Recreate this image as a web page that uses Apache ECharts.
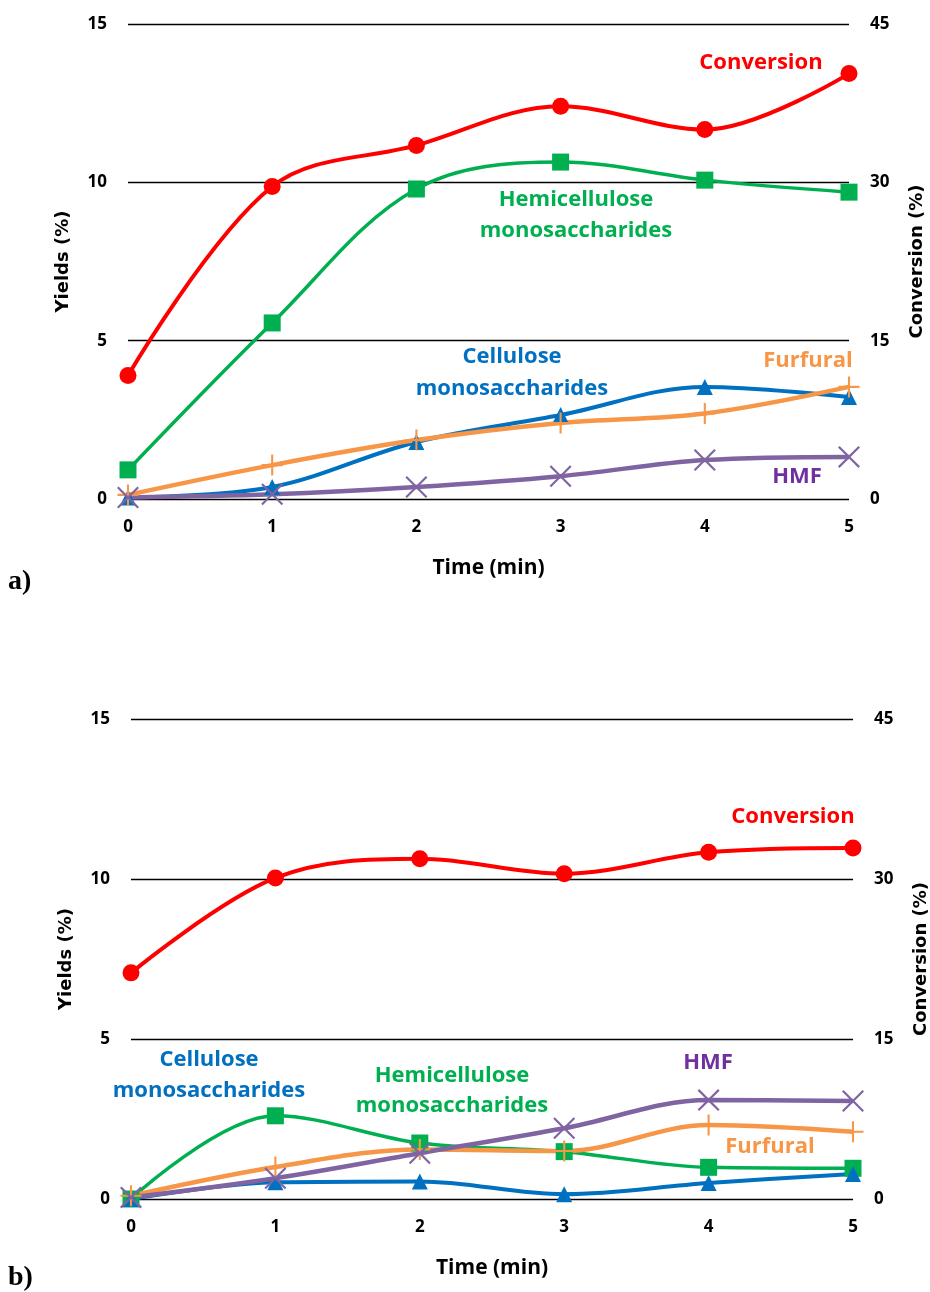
<!DOCTYPE html>
<html>
<head>
<meta charset="utf-8">
<script src="https://cdn.jsdelivr.net/npm/echarts@6/dist/echarts.min.js"></script>
<style>
  html, body { margin: 0; padding: 0; background: #fff; }
  #chart { width: 930px; height: 1292px; }
</style>
</head>
<body>
<div id="chart"></div>
<script>
// Reaction time (min)
const timeMin = [0, 1, 2, 3, 4, 5];
const yieldTicks = [0, 5, 10, 15];        // Yields (%)
const conversionTicks = [0, 15, 30, 45];  // Conversion (%)

// Panel a)
const conversionA = [11.7, 29.6, 33.5, 37.2, 35.0, 40.3];
const hemicelluloseA = [0.92, 5.56, 9.79, 10.64, 10.07, 9.69];
const celluloseA = [0.05, 0.38, 1.8, 2.65, 3.54, 3.22];
const furfuralA = [0.13, 1.07, 1.86, 2.4, 2.7, 3.54];
const hmfA = [0.05, 0.15, 0.38, 0.72, 1.23, 1.33];

// Panel b)
const conversionB = [21.2, 30.1, 31.9, 30.5, 32.5, 32.9];
const hemicelluloseB = [0.0, 2.6, 1.75, 1.48, 0.99, 0.96];
const celluloseB = [0.0, 0.52, 0.55, 0.15, 0.5, 0.78];
const furfuralB = [0.1, 1.0, 1.55, 1.5, 2.31, 2.1];
const hmfB = [0.05, 0.65, 1.43, 2.21, 3.09, 3.06];

const C = {
  conversion: '#FF0000',
  hemi: '#00B050',
  cellulose: '#0070C0',
  furfural: '#F79646',
  hmf: '#8064A2',
  hmfText: '#7030A0'
};

const PLUS = 'path://M9,0H11V9H20V11H11V20H9V11H0V9H9Z';
const CROSS = 'path://M0,1.4L1.4,0L10,8.6L18.6,0L20,1.4L11.4,10L20,18.6L18.6,20L10,11.4L1.4,20L0,18.6L8.6,10Z';

const tickFont = { fontFamily: 'Open Sans', fontWeight: 'bold', fontSize: 17, color: '#000' };
const titleFont = { fontFamily: 'DejaVu Sans', fontWeight: 'bold', fontSize: 18, color: '#000' };

const pairs = (vals) => vals.map((v, i) => [timeMin[i], v]);

function xAxisFor(gridIndex) {
  return {
    type: 'value', gridIndex,
    min: timeMin[0], max: timeMin[timeMin.length - 1], interval: 1,
    name: 'Time (min)', nameLocation: 'middle', nameGap: 59,
    nameTextStyle: { fontFamily: 'Open Sans', fontWeight: 'bold', fontSize: 21, color: '#000' },
    axisLine: { show: false }, axisTick: { show: false }, splitLine: { show: false },
    axisLabel: Object.assign({ margin: 20 }, tickFont)
  };
}
function yieldAxisFor(gridIndex) {
  return {
    type: 'value', gridIndex, position: 'left',
    min: yieldTicks[0], max: yieldTicks[yieldTicks.length - 1], interval: yieldTicks[1] - yieldTicks[0],
    name: 'Yields (%)', nameLocation: 'middle', nameRotate: 90, nameGap: 56,
    nameTextStyle: titleFont,
    axisLine: { show: false }, axisTick: { show: false },
    splitLine: { show: true, lineStyle: { color: '#000', width: 1.3 } },
    axisLabel: Object.assign({ margin: 21 }, tickFont)
  };
}
function conversionAxisFor(gridIndex) {
  return {
    type: 'value', gridIndex, position: 'right',
    min: conversionTicks[0], max: conversionTicks[conversionTicks.length - 1],
    interval: conversionTicks[1] - conversionTicks[0],
    name: 'Conversion (%)', nameLocation: 'middle', nameRotate: 90, nameGap: 59,
    nameTextStyle: titleFont,
    axisLine: { show: false }, axisTick: { show: false }, splitLine: { show: false },
    axisLabel: Object.assign({ margin: 21 }, tickFont)
  };
}

function line(name, vals, color, symbol, size, xi, yi, width) {
  return {
    name, type: 'line', smooth: 0.35,
    xAxisIndex: xi, yAxisIndex: yi,
    data: pairs(vals),
    symbol, symbolSize: size, showSymbol: true,
    lineStyle: { color, width },
    itemStyle: { color, borderWidth: 0 },
    emphasis: { disabled: true },
    clip: false
  };
}

function panelSeries(xi, yYield, yConv, d) {
  return [
    line('Hemicellulose monosaccharides', d.hemi, C.hemi, 'rect', 17, xi, yYield, 3.5),
    line('Cellulose monosaccharides', d.cell, C.cellulose, 'triangle', 16, xi, yYield, 4),
    line('Furfural', d.furf, C.furfural, PLUS, 21, xi, yYield, 4.5),
    line('HMF', d.hmf, C.hmf, CROSS, 22, xi, yYield, 4.5),
    line('Conversion', d.conv, C.conversion, 'circle', 17, xi, yConv, 4)
  ];
}

function label(text, x, y, color) {
  return {
    type: 'text', x, y, silent: true,
    style: {
      text, fill: color, font: 'bold 22px "Open Sans"',
      align: 'center', verticalAlign: 'middle',
      textAlign: 'center', textVerticalAlign: 'middle'
    }
  };
}
function panelTag(text, x, y) {
  return {
    type: 'text', x, y, silent: true,
    style: {
      text, fill: '#000', font: 'bold 28px "Liberation Serif"',
      align: 'left', verticalAlign: 'middle',
      textAlign: 'left', textVerticalAlign: 'middle'
    }
  };
}

const chart = echarts.init(document.getElementById('chart'), null, { renderer: 'canvas' });
chart.setOption({
  backgroundColor: '#fff',
  animation: false,
  grid: [
    { left: 128, right: 81, top: 24, height: 475, outerBoundsMode: 'none', containLabel: false },
    { left: 131, right: 77, top: 719, height: 480, outerBoundsMode: 'none', containLabel: false }
  ],
  xAxis: [xAxisFor(0), xAxisFor(1)],
  yAxis: [yieldAxisFor(0), conversionAxisFor(0), yieldAxisFor(1), conversionAxisFor(1)],
  series: [
    ...panelSeries(0, 0, 1, { hemi: hemicelluloseA, cell: celluloseA, furf: furfuralA, hmf: hmfA, conv: conversionA }),
    ...panelSeries(1, 2, 3, { hemi: hemicelluloseB, cell: celluloseB, furf: furfuralB, hmf: hmfB, conv: conversionB })
  ],
  graphic: [
    label('Conversion', 761, 63, C.conversion),
    label('Hemicellulose', 576, 200, C.hemi),
    label('monosaccharides', 576, 231, C.hemi),
    label('Cellulose', 512, 357, C.cellulose),
    label('monosaccharides', 512, 389, C.cellulose),
    label('Furfural', 808, 361, C.furfural),
    label('HMF', 797, 477, C.hmfText),
    panelTag('a)', 8, 582),

    label('Conversion', 793, 817, C.conversion),
    label('Cellulose', 209, 1060, C.cellulose),
    label('monosaccharides', 209, 1091, C.cellulose),
    label('Hemicellulose', 452, 1076, C.hemi),
    label('monosaccharides', 452, 1106, C.hemi),
    label('HMF', 708, 1063, C.hmfText),
    label('Furfural', 770, 1147, C.furfural),
    panelTag('b)', 8, 1278)
  ]
});
</script>
</body>
</html>
